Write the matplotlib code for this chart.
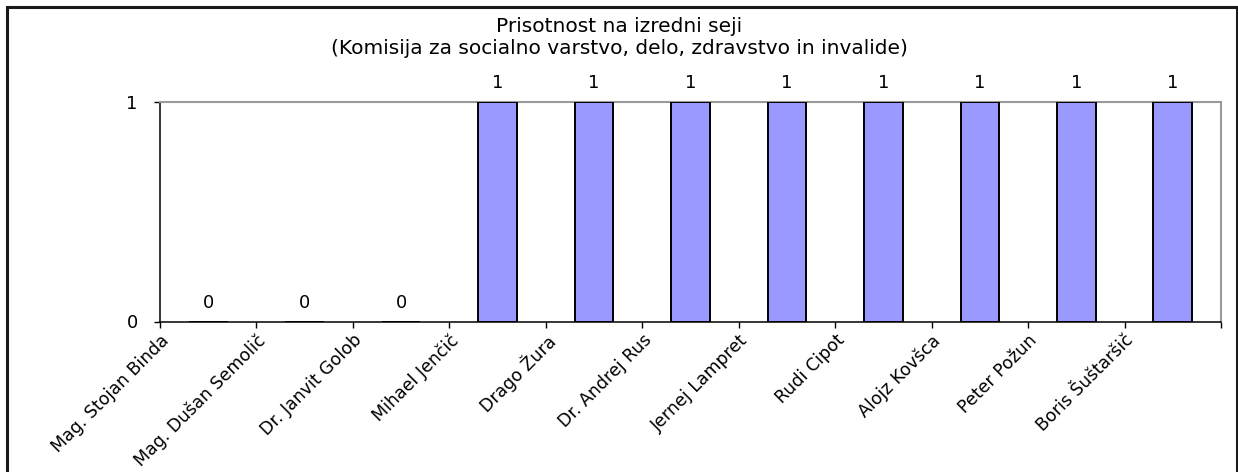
import matplotlib
matplotlib.use("Agg")
import matplotlib.pyplot as plt
import matplotlib.transforms as mtransforms
from matplotlib.patches import Rectangle
import numpy as np

plt.rcParams['font.family'] = ['DejaVu Sans']

names = ["Mag. Stojan Binda", "Mag. Dušan Semolič", "Dr. Janvit Golob", "Mihael Jenčič",
         "Drago Žura", "Dr. Andrej Rus", "Jernej Lampret", "Rudi Cipot",
         "Alojz Kovšca", "Peter Požun", "Boris Šuštaršič"]
values = [0, 0, 0, 1, 1, 1, 1, 1, 1, 1, 1]
title_line1 = "Prisotnost na izredni seji"
title_line2 = "(Komisija za socialno varstvo, delo, zdravstvo in invalide)"

W, H = 1238, 472
fig = plt.figure(figsize=(W / 100, H / 100), dpi=100)
fig.patch.set_facecolor("white")

left, right, top, bottom = 160, 1221, 102, 321.5
ax = fig.add_axes([left / W, 1 - bottom / H, (right - left) / W, (bottom - top) / H])

x = np.arange(len(names))
ax.bar(x, values, width=0.4, color="#9999FF", edgecolor="black", linewidth=1.4, zorder=3)

ax.set_xlim(-0.5, len(names) - 0.5)
ax.set_ylim(0, 1)

for xi, v in zip(x, values):
    ax.annotate(str(v), (xi, v), xytext=(0, 13.5), textcoords="offset points",
                ha="center", va="center", fontsize=13, annotation_clip=False)

# ticks at category boundaries, labels anchored at left boundary
bounds = np.arange(len(names) + 1) - 0.5
ax.set_xticks(bounds)
ax.set_xticklabels(names + [""], rotation=45, ha="right", va="top",
                   rotation_mode="anchor", fontsize=12.5)
offset = mtransforms.ScaledTranslation(0 / 100, -2 / 100, fig.dpi_scale_trans)
for lab in ax.get_xticklabels():
    lab.set_transform(lab.get_transform() + offset)

ax.set_yticks([0, 1])
ax.set_yticklabels(["0", "1"], fontsize=13)
ax.tick_params(axis="both", direction="out", length=4, width=1, color="black", pad=3)
ax.tick_params(axis="y", pad=12)

for s in ["left", "bottom"]:
    ax.spines[s].set_color("black")
    ax.spines[s].set_linewidth(1.1)
for s in ["top", "right"]:
    ax.spines[s].set_color("#9a9a9a")
    ax.spines[s].set_linewidth(1.5)

fig.text(0.5, 1 - 26 / H, title_line1, ha="center", va="center", fontsize=14.5)
fig.text(0.5, 1 - 49 / H, title_line2, ha="center", va="center", fontsize=14.5)

border = Rectangle((7 / W, -0.05), (1237 - 7) / W, 1.05 - 7 / H, transform=fig.transFigure,
                   fill=False, edgecolor="#1a1a1a", linewidth=2.2, clip_on=False)
fig.patches.append(border)

fig.savefig("out.png", dpi=100, facecolor="white")
